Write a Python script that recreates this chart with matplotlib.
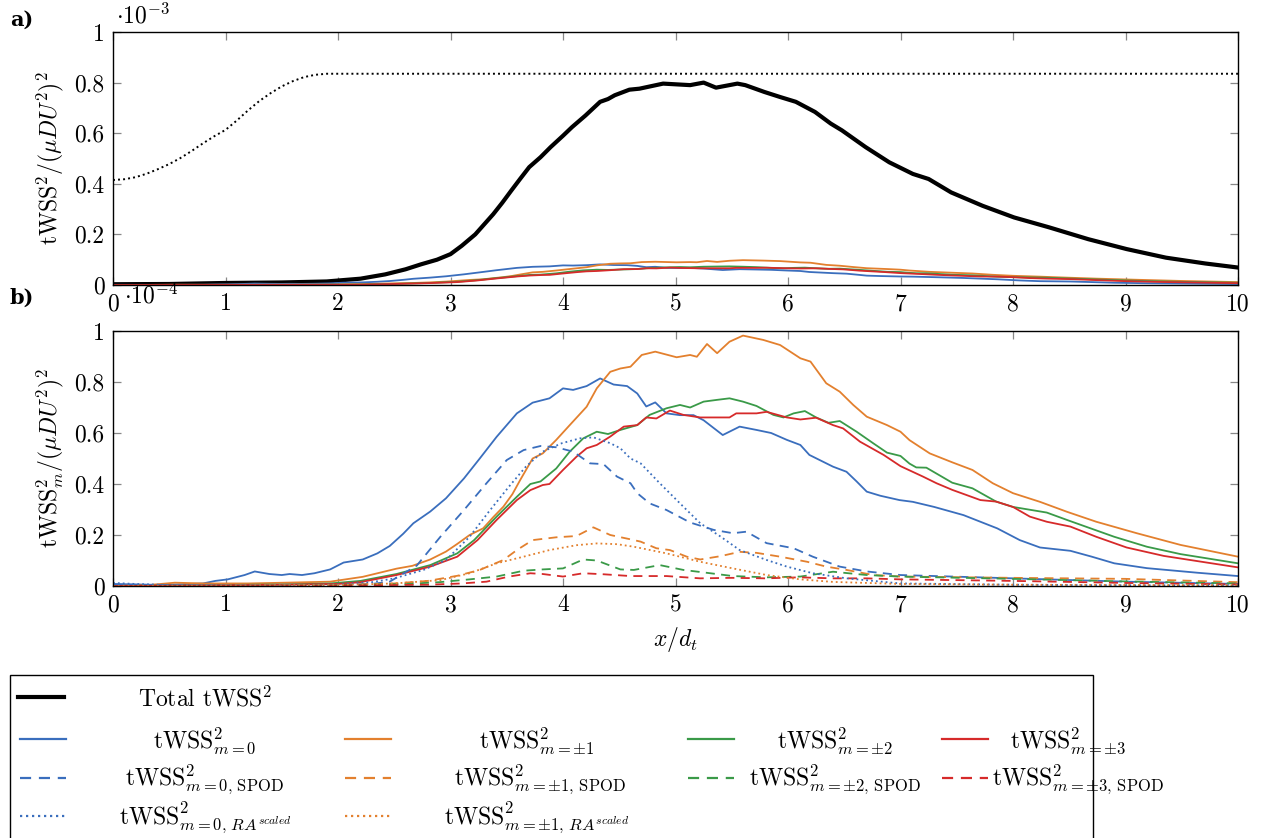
import matplotlib
matplotlib.use("Agg")
import matplotlib.pyplot as plt
from matplotlib.lines import Line2D
from matplotlib.patches import Rectangle
from matplotlib.ticker import FuncFormatter

plt.rcParams['font.family'] = 'serif'
plt.rcParams['font.serif'] = ['cmr10', 'DejaVu Serif']
plt.rcParams['mathtext.fontset'] = 'cm'
plt.rcParams['axes.formatter.use_mathtext'] = True
plt.rcParams['axes.unicode_minus'] = False

# values, panel b in units of 1e-4
x_m0 = [0, 0.44, 0.8, 0.91, 1.02, 1.17, 1.26, 1.39, 1.5, 1.57, 1.68, 1.79, 1.93, 2.05, 2.22, 2.35, 2.46, 2.58,
        2.67, 2.82, 2.96, 3.12, 3.26, 3.41, 3.59, 3.73, 3.88, 4.0, 4.09, 4.21, 4.33, 4.45, 4.57, 4.66, 4.74, 4.82,
        4.92, 5.04, 5.16, 5.25, 5.42, 5.57, 5.72, 5.85, 5.99, 6.11, 6.19, 6.4, 6.52, 6.61, 6.7, 6.82, 6.99, 7.11,
        7.3, 7.56, 7.86, 8.06, 8.24, 8.51, 8.7, 8.9, 9.19, 9.64, 10]
y_m0 = [0.008, 0.004, 0.01, 0.02, 0.026, 0.043, 0.057, 0.047, 0.043, 0.047, 0.043, 0.05, 0.065, 0.092, 0.104, 0.128,
        0.157, 0.205, 0.246, 0.292, 0.344, 0.422, 0.5, 0.585, 0.677, 0.719, 0.736, 0.775, 0.769, 0.784, 0.814, 0.79,
        0.784, 0.755, 0.704, 0.72, 0.677, 0.67, 0.67, 0.65, 0.592, 0.625, 0.612, 0.6, 0.573, 0.553, 0.514, 0.468,
        0.448, 0.41, 0.37, 0.354, 0.337, 0.33, 0.31, 0.278, 0.226, 0.18, 0.151, 0.138, 0.115, 0.089, 0.07, 0.052,
        0.039]

x_m1 = [0, 0.3, 0.55, 0.8, 1.2, 1.53, 1.93, 2.22, 2.52, 2.66, 2.82, 2.96, 3.06, 3.17, 3.29, 3.38, 3.47, 3.55, 3.62,
        3.73, 3.82, 3.94, 4.06, 4.21, 4.30, 4.42, 4.51, 4.6, 4.70, 4.82, 5.01, 5.13, 5.19, 5.28, 5.37, 5.48, 5.60,
        5.78, 5.93, 6.11, 6.2, 6.34, 6.46, 6.58, 6.70, 6.88, 7.0, 7.08, 7.26, 7.46, 7.64, 7.82, 8.0, 8.24, 8.48,
        8.74, 9.1, 9.49, 10]
y_m1 = [0.0, 0.003, 0.013, 0.01, 0.01, 0.013, 0.017, 0.036, 0.068, 0.079, 0.104, 0.135, 0.165, 0.2, 0.226, 0.27,
        0.311, 0.36, 0.416, 0.5, 0.52, 0.573, 0.631, 0.703, 0.775, 0.84, 0.853, 0.86, 0.906, 0.919, 0.897, 0.906,
        0.899, 0.949, 0.913, 0.958, 0.982, 0.965, 0.945, 0.893, 0.88, 0.795, 0.762, 0.71, 0.664, 0.631, 0.605,
        0.572, 0.52, 0.485, 0.455, 0.403, 0.364, 0.33, 0.291, 0.252, 0.207, 0.161, 0.115]

x_m2 = [0, 0.5, 1.0, 1.5, 1.93, 2.2, 2.52, 2.82, 3.06, 3.21, 3.41, 3.59, 3.71, 3.8, 3.94, 4.06, 4.18, 4.3, 4.4,
        4.51, 4.66, 4.77, 4.92, 5.04, 5.13, 5.25, 5.37, 5.48, 5.60, 5.72, 5.87, 5.96, 6.05, 6.15, 6.25, 6.36, 6.46,
        6.61, 6.76, 6.88, 7.0, 7.08, 7.14, 7.23, 7.46, 7.64, 7.85, 8.0, 8.3, 8.48, 8.9, 9.19, 9.49, 10]
y_m2 = [0.0, 0.002, 0.004, 0.006, 0.01, 0.02, 0.047, 0.082, 0.128, 0.18, 0.272, 0.35, 0.4, 0.41, 0.461, 0.527,
        0.579, 0.605, 0.596, 0.612, 0.631, 0.671, 0.697, 0.71, 0.7, 0.723, 0.73, 0.736, 0.723, 0.706, 0.671, 0.661,
        0.677, 0.686, 0.661, 0.64, 0.647, 0.605, 0.559, 0.523, 0.51, 0.48, 0.465, 0.464, 0.405, 0.383, 0.331, 0.31,
        0.288, 0.259, 0.193, 0.154, 0.125, 0.089]

x_m3 = [0, 0.5, 1.0, 1.5, 2.0, 2.2, 2.52, 2.82, 3.06, 3.24, 3.41, 3.59, 3.71, 3.82, 3.88, 4.0, 4.12, 4.21, 4.30,
        4.42, 4.54, 4.66, 4.74, 4.83, 4.95, 5.07, 5.22, 5.34, 5.48, 5.54, 5.72, 5.81, 5.99, 6.11, 6.25, 6.40, 6.49,
        6.64, 6.85, 7.0, 7.2, 7.32, 7.46, 7.71, 7.85, 8.0, 8.15, 8.3, 8.51, 8.74, 9.01, 9.34, 10]
y_m3 = [0.0, 0.002, 0.003, 0.005, 0.008, 0.015, 0.043, 0.076, 0.115, 0.18, 0.259, 0.337, 0.376, 0.396, 0.4, 0.455,
        0.507, 0.54, 0.553, 0.586, 0.625, 0.631, 0.661, 0.657, 0.688, 0.671, 0.661, 0.661, 0.661, 0.677, 0.677,
        0.683, 0.661, 0.653, 0.66, 0.631, 0.618, 0.566, 0.514, 0.47, 0.429, 0.403, 0.377, 0.337, 0.331, 0.31,
        0.272, 0.252, 0.233, 0.193, 0.151, 0.118, 0.073]

x_m0_spod = [0, 1.0, 2.0, 2.3, 2.46, 2.70, 2.91, 3.12, 3.32, 3.5, 3.65, 3.8, 3.94, 4.09, 4.24, 4.36, 4.48, 4.6,
             4.66, 4.77, 4.92, 5.13, 5.34, 5.51, 5.63, 5.81, 6.05, 6.22, 6.46, 6.70, 7.0, 8.0, 9.0, 10]
y_m0_spod = [0.005, 0.003, 0.003, 0.008, 0.017, 0.08, 0.193, 0.298, 0.403, 0.494, 0.533, 0.549, 0.544, 0.527,
             0.481, 0.478, 0.429, 0.403, 0.364, 0.324, 0.298, 0.249, 0.22, 0.207, 0.213, 0.168, 0.148, 0.115,
             0.076, 0.057, 0.043, 0.03, 0.017, 0.008]

x_m0_ra = [0, 0.2, 0.5, 1.0, 1.5, 2.0, 2.3, 2.5, 2.76, 2.96, 3.17, 3.34, 3.52, 3.67, 3.82, 3.99, 4.15, 4.27, 4.42,
           4.51, 4.6, 4.69, 4.86, 5.04, 5.22, 5.40, 5.57, 5.81, 5.99, 6.22, 6.52, 7.0, 8.0, 9.0, 10]
y_m0_ra = [0.012, 0.008, 0.004, 0.002, 0.003, 0.006, 0.015, 0.03, 0.063, 0.102, 0.193, 0.291, 0.39, 0.468, 0.527,
           0.56, 0.579, 0.583, 0.56, 0.54, 0.5, 0.481, 0.403, 0.324, 0.246, 0.194, 0.141, 0.102, 0.076, 0.05,
           0.03, 0.01, 0.005, 0.003, 0.002]

x_m1_spod = [0, 1.0, 2.0, 2.5, 2.8, 3.06, 3.26, 3.47, 3.59, 3.73, 3.94, 4.12, 4.27, 4.42, 4.6, 4.69, 4.83, 4.95,
             5.10, 5.22, 5.40, 5.57, 5.72, 5.93, 6.17, 6.34, 6.52, 6.76, 7.0, 8.0, 9.0, 10]
y_m1_spod = [0.0, 0.002, 0.004, 0.01, 0.02, 0.04, 0.063, 0.102, 0.141, 0.18, 0.191, 0.196, 0.23, 0.2, 0.183,
             0.174, 0.148, 0.141, 0.115, 0.104, 0.117, 0.134, 0.13, 0.115, 0.095, 0.076, 0.063, 0.043, 0.037,
             0.032, 0.028, 0.015]

x_m1_ra = [0, 1.0, 2.0, 2.5, 2.91, 3.17, 3.41, 3.65, 3.88, 4.12, 4.30, 4.48, 4.63, 4.92, 5.22, 5.51, 5.81, 6.11,
           6.40, 7.0, 8.0, 10]
y_m1_ra = [0.0, 0.002, 0.004, 0.01, 0.023, 0.05, 0.089, 0.115, 0.141, 0.16, 0.167, 0.164, 0.154, 0.128, 0.095,
           0.069, 0.043, 0.026, 0.016, 0.008, 0.005, 0.003]

x_m2_spod = [0, 1, 2, 2.6, 2.9, 3.17, 3.41, 3.65, 3.82, 4.0, 4.18, 4.30, 4.51, 4.63, 4.86, 5.07, 5.31, 5.51, 5.81,
             6.11, 6.40, 6.70, 7.0, 8.0, 9.0, 10]
y_m2_spod = [0, 0.001, 0.003, 0.008, 0.015, 0.026, 0.037, 0.06, 0.065, 0.069, 0.104, 0.1, 0.065, 0.063, 0.082,
             0.063, 0.05, 0.039, 0.034, 0.037, 0.056, 0.043, 0.037, 0.028, 0.018, 0.01]

x_m3_spod = [0, 1, 2, 2.8, 3.1, 3.32, 3.52, 3.71, 3.82, 4.0, 4.18, 4.36, 4.6, 4.92, 5.22, 5.5, 5.8, 6.1, 6.4, 6.7,
             7.0, 8.0, 9.0, 10]
y_m3_spod = [0, 0.001, 0.002, 0.005, 0.01, 0.017, 0.037, 0.05, 0.047, 0.037, 0.05, 0.046, 0.039, 0.039, 0.03,
             0.032, 0.03, 0.034, 0.03, 0.03, 0.026, 0.02, 0.012, 0.006]

# panel a, units of 1e-3
x_total = [0, 0.5, 1.0, 1.5, 1.9, 2.2, 2.42, 2.6, 2.74, 2.88, 3.0, 3.1, 3.22, 3.3, 3.38, 3.46, 3.54, 3.62, 3.70,
           3.80, 3.89, 4.0, 4.08, 4.2, 4.33, 4.4, 4.46, 4.59, 4.68, 4.89, 5.13, 5.25, 5.36, 5.55, 5.62, 5.79, 5.93,
           6.07, 6.24, 6.38, 6.48, 6.69, 6.90, 7.11, 7.25, 7.45, 7.73, 8.01, 8.32, 8.67, 9.01, 9.36, 9.71, 10]
y_total = [0.003, 0.004, 0.008, 0.01, 0.014, 0.025, 0.042, 0.062, 0.082, 0.1, 0.122, 0.155, 0.2, 0.24, 0.28,
           0.325, 0.373, 0.42, 0.466, 0.505, 0.545, 0.59, 0.624, 0.67, 0.724, 0.735, 0.75, 0.772, 0.776, 0.796,
           0.79, 0.8, 0.78, 0.796, 0.79, 0.763, 0.743, 0.724, 0.684, 0.638, 0.611, 0.545, 0.485, 0.439, 0.419,
           0.366, 0.313, 0.267, 0.228, 0.181, 0.142, 0.108, 0.085, 0.069]

x_ref = [0, 0.1, 0.2, 0.3, 0.4, 0.5, 0.6, 0.7, 0.8, 0.9, 1.0, 1.1, 1.2, 1.3, 1.4, 1.5, 1.6, 1.7, 1.8, 1.9, 10]
y_ref = [0.415, 0.418, 0.426, 0.44, 0.458, 0.478, 0.502, 0.53, 0.56, 0.588, 0.613, 0.65, 0.69, 0.727, 0.758,
         0.785, 0.806, 0.822, 0.831, 0.835, 0.835]

xticks = [0, 1, 2, 3, 4, 5, 6, 7, 8, 9, 10]
yticks = [0, 0.2, 0.4, 0.6, 0.8, 1]

blue = '#3a6ebd'
orange = '#e3802e'
green = '#3a9a48'
red = '#d62a2a'
W, H = 1266, 838
fs = 17

fig = plt.figure(figsize=(W / 100, H / 100), dpi=100)
ax_a = fig.add_axes([113 / W, 1 - 285 / H, (1238 - 113) / W, (285 - 32) / H])
ax_b = fig.add_axes([113 / W, 1 - 586 / H, (1238 - 113) / W, (586 - 331) / H])

lw = 1.3
ax_a.plot(x_ref, y_ref, color='black', lw=1.4, linestyle=(0, (1, 1.6)))
ax_a.plot(x_total, y_total, color='black', lw=3.0)
for xs, ys, c in [(x_m0, y_m0, blue), (x_m1, y_m1, orange), (x_m2, y_m2, green), (x_m3, y_m3, red)]:
    ax_a.plot(xs, [v * 0.1 for v in ys], color=c, lw=lw)

dash = (0, (5, 3.5))
dot = (0, (1, 1.7))
ax_b.plot(x_m0, y_m0, color=blue, lw=lw)
ax_b.plot(x_m1, y_m1, color=orange, lw=lw)
ax_b.plot(x_m2, y_m2, color=green, lw=lw)
ax_b.plot(x_m3, y_m3, color=red, lw=lw)
ax_b.plot(x_m0_spod, y_m0_spod, color=blue, lw=lw, linestyle=dash)
ax_b.plot(x_m1_spod, y_m1_spod, color=orange, lw=lw, linestyle=dash)
ax_b.plot(x_m2_spod, y_m2_spod, color=green, lw=lw, linestyle=dash)
ax_b.plot(x_m3_spod, y_m3_spod, color=red, lw=lw, linestyle=dash)
ax_b.plot(x_m0_ra, y_m0_ra, color=blue, lw=lw, linestyle=dot)
ax_b.plot(x_m1_ra, y_m1_ra, color=orange, lw=lw, linestyle=dot)

fmt = FuncFormatter(lambda v, p: '%g' % v)
for ax in (ax_a, ax_b):
    ax.set_xlim(0, 10)
    ax.set_ylim(0, 1)
    ax.set_xticks(xticks)
    ax.set_yticks(yticks)
    ax.xaxis.set_major_formatter(fmt)
    ax.yaxis.set_major_formatter(fmt)
    ax.tick_params(direction='in', top=True, right=True, length=6, width=0.9, color='#888888',
                   labelsize=fs, pad=6)
    for s in ax.spines.values():
        s.set_linewidth(1.0)

ax_a.set_ylabel(r'$\mathrm{tWSS}^2/(\mu D U^2)^2$', fontsize=fs, labelpad=6)
ax_b.set_ylabel(r'$\mathrm{tWSS}^2_m/(\mu D U^2)^2$', fontsize=fs, labelpad=6)
ax_b.set_xlabel(r'$x/d_t$', fontsize=fs, labelpad=6)

fig.text(116 / W, 1 - 16 / H, r'$\cdot 10^{-3}$', fontsize=fs, va='center', ha='left')
fig.text(124 / W, 1 - 296 / H, r'$\cdot 10^{-4}$', fontsize=fs, va='center', ha='left')
fig.text(10 / W, 1 - 20 / H, 'a)', fontsize=15, fontweight='bold', family='DejaVu Serif', va='center')
fig.text(10 / W, 1 - 298 / H, 'b)', fontsize=15, fontweight='bold', family='DejaVu Serif', va='center')

# legend box drawn by hand so labels can be centred like the original
fig.add_artist(Rectangle((10 / W, -0.05), (1093 - 10) / W, (838 - 675) / H + 0.05,
                         transform=fig.transFigure, fill=False, lw=1.0, edgecolor='black'))
entries = [
    ('black', 'solid', 3.0, r'Total $\mathrm{tWSS}^2$', 18, 205, 697),
    (blue, 'solid', 1.6, r'$\mathrm{tWSS}^2_{m=0}$', 20, 205, 739),
    (orange, 'solid', 1.6, r'$\mathrm{tWSS}^2_{m=\pm1}$', 345, 537, 739),
    (green, 'solid', 1.6, r'$\mathrm{tWSS}^2_{m=\pm2}$', 688, 835, 739),
    (red, 'solid', 1.6, r'$\mathrm{tWSS}^2_{m=\pm3}$', 942, 1068, 739),
    (blue, dash, 1.6, r'$\mathrm{tWSS}^2_{m=0,\,\mathrm{SPOD}}$', 20, 205, 778),
    (orange, dash, 1.6, r'$\mathrm{tWSS}^2_{m=\pm1,\,\mathrm{SPOD}}$', 345, 540, 778),
    (green, dash, 1.6, r'$\mathrm{tWSS}^2_{m=\pm2,\,\mathrm{SPOD}}$', 688, 835, 778),
    (red, dash, 1.6, r'$\mathrm{tWSS}^2_{m=\pm3,\,\mathrm{SPOD}}$', 942, 1078, 778),
    (blue, dot, 1.6, r'$\mathrm{tWSS}^2_{m=0,\,RA^{scaled}}$', 20, 205, 816),
    (orange, dot, 1.6, r'$\mathrm{tWSS}^2_{m=\pm1,\,RA^{scaled}}$', 345, 537, 816),
]
for c, ls, w, label, hx, tx, yy in entries:
    fig.add_artist(Line2D([hx / W, (hx + 46) / W], [1 - yy / H, 1 - yy / H], transform=fig.transFigure,
                          color=c, lw=w, linestyle=ls))
    fig.text(tx / W, 1 - (yy + 2) / H, label, fontsize=fs, ha='center', va='center')

fig.savefig('out.png', dpi=100)
